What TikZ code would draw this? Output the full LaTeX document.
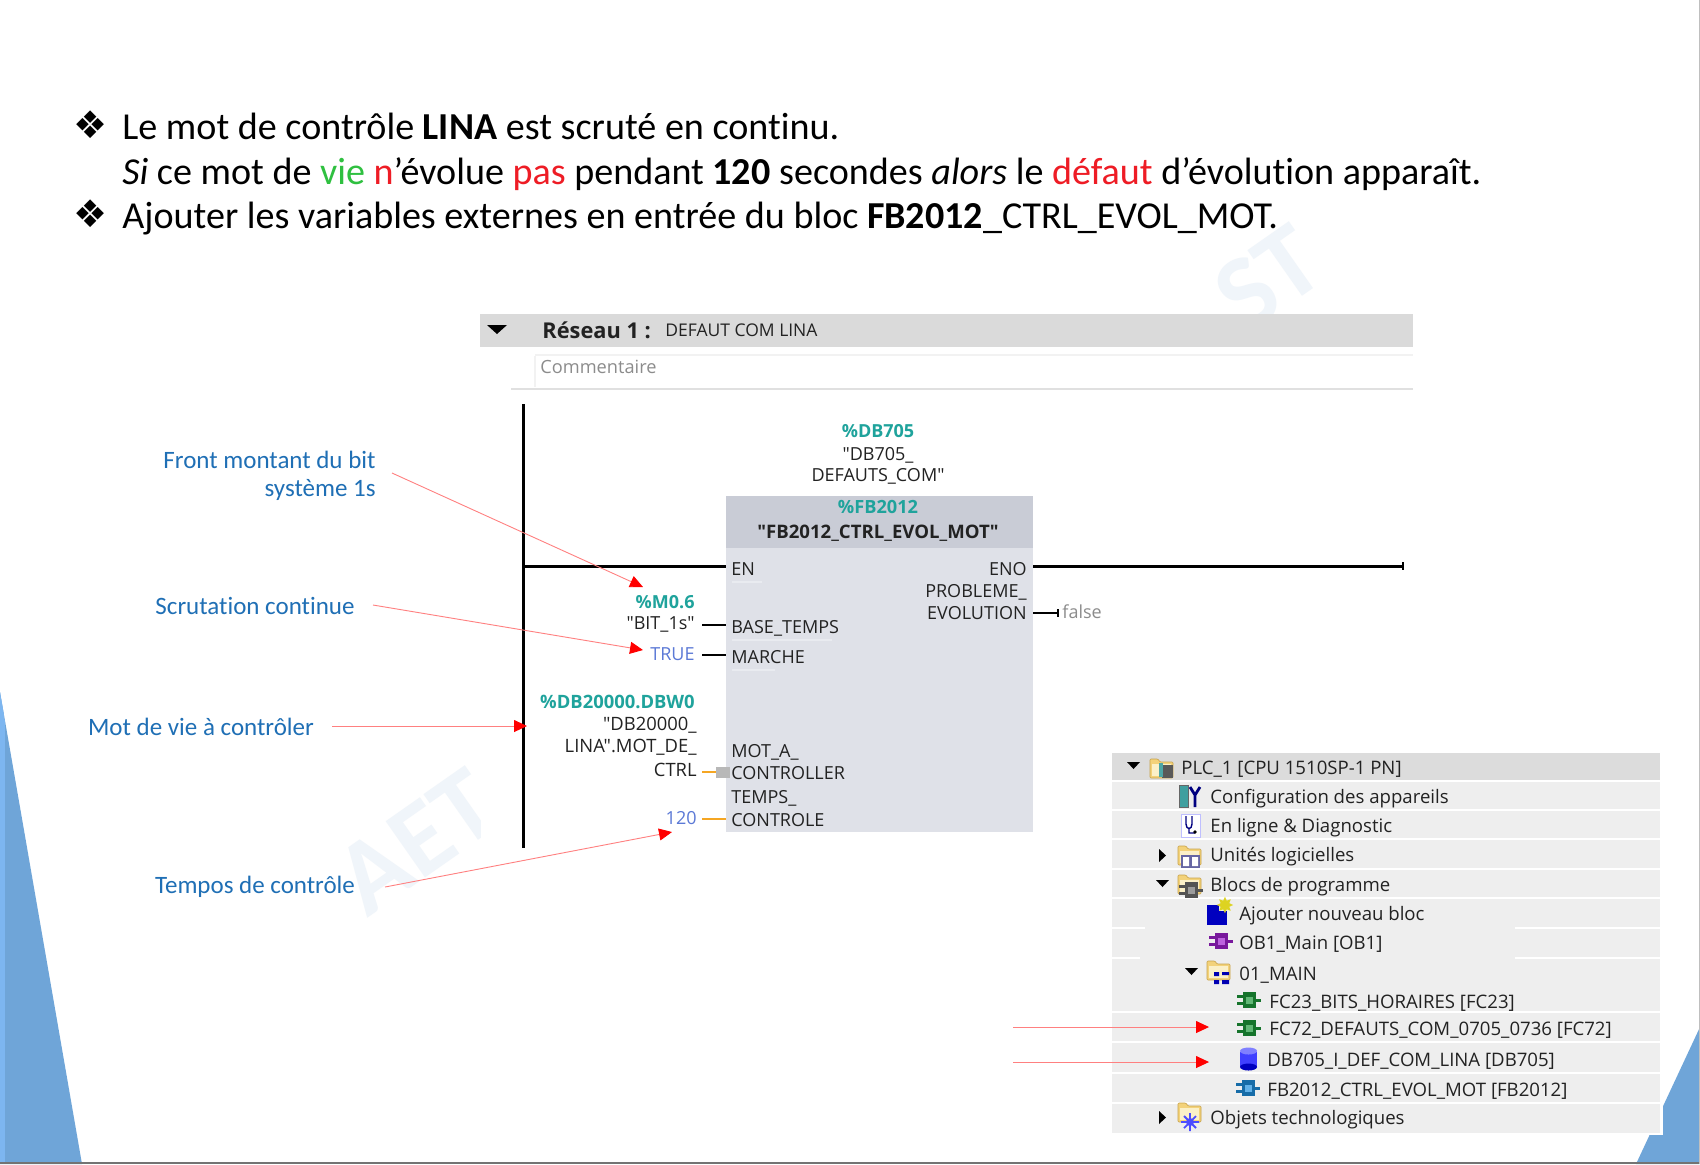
\documentclass[tikz,border=0pt]{standalone}
\usepackage{fontspec}
\setmainfont{Carlito}[Ligatures=NoCommon]
\newfontfamily\tiafont{Open Sans}
\newfontfamily\symfont{DejaVu Sans}
\usetikzlibrary{arrows.meta}
\definecolor{calblue}{HTML}{1F6FB5}
\definecolor{tealvar}{HTML}{1FA39C}
\definecolor{constblue}{HTML}{5B79D6}
\definecolor{greenw}{HTML}{2FC040}
\definecolor{redw}{HTML}{EE1C25}
\definecolor{wmark}{HTML}{F0F5FA}
\definecolor{triblue}{HTML}{6FA5D8}
\definecolor{triblueb}{HTML}{7DB6F0}
\definecolor{rowbg}{HTML}{EEEEEE}
\definecolor{rowhead}{HTML}{DCDCDC}
\definecolor{netbar}{HTML}{DADADA}
\definecolor{fbhead}{HTML}{C9CCD6}
\definecolor{fbbody}{HTML}{DFE1E8}
\definecolor{fbline}{HTML}{E9EBF0}
\definecolor{orangew}{HTML}{F5A623}
\definecolor{inktext}{HTML}{222222}
\definecolor{icgrey}{HTML}{707070}
\definecolor{icviolet}{HTML}{A020D0}
\definecolor{icgreen}{HTML}{1E9A3A}
\definecolor{iccyan}{HTML}{1E90E0}
\definecolor{folderline}{HTML}{C8A24A}
\definecolor{folderfill}{HTML}{F3D27A}
\definecolor{folderin}{HTML}{FBF0C8}
\tikzset{
  mainline/.style={font=\fontsize{19.05}{22}\selectfont,anchor=base west,inner sep=0pt},
  bullet/.style={font=\symfont\fontsize{19}{22}\selectfont,anchor=center,inner sep=0pt},
  callout/.style={font=\fontsize{12.5}{15}\selectfont,text=calblue,inner sep=0pt,align=right},
  callarrow/.style={draw=red!50!white,line width=0.45pt,-{Triangle[length=6.5pt,width=6pt,color=red]}},
  tia/.style={font=\tiafont\fontsize{9}{10}\selectfont,text=inktext,inner sep=0pt},
  tiav/.style={tia,text=tealvar,font=\tiafont\bfseries\fontsize{9}{10}\selectfont},
  tree/.style={font=\tiafont\fontsize{9.3}{10}\selectfont,text=inktext,inner sep=0pt,anchor=west},
  rail/.style={line width=1.5pt,black},
  pin/.style={line width=1.4pt,black},
  opin/.style={line width=1.4pt,orangew},
  tiptri/.style={fill=black,draw=none},
  wm/.style={text=wmark,font=\fontsize{53}{60}\selectfont\bfseries,inner sep=0pt,rotate=35}
}
% folder: top-left x,y
\newcommand{\tfolder}[2]{%
  \filldraw[rounded corners=0.5pt,draw=folderline,fill=folderfill,line width=0.3pt] (#1,#2+3)--(#1,#2+22)--(#1+23,#2+22)--(#1+23,#2+6)--(#1+10,#2+6)--(#1+8,#2+3)--cycle;
  \fill[fill=folderin] (#1+2,#2+8) rectangle (#1+21,#2+20);}
\newcommand{\bicon}[3]{% cx cy colour
  \fill[#3!75!black] (#1-6,#2-8) rectangle (#1+7,#2+8);
  \fill[#3!70!white] (#1-3,#2-3.5) rectangle (#1+4,#2+3.5);
  \fill[#3!75!black] (#1-12,#2-5) rectangle (#1-6,#2-2);
  \fill[#3!75!black] (#1-12,#2+2) rectangle (#1-6,#2+5);
  \fill[#3!75!black] (#1+7,#2-1.5) rectangle (#1+12,#2+1.5);}
\begin{document}
\begin{tikzpicture}[x=0.5pt,y=-0.5pt]
\useasboundingbox (0,0) rectangle (1700,1164);
\fill[white] (0,0) rectangle (1700,1164);
% background triangles
\fill[triblue] (0,692) -- (82,1164) -- (0,1164) -- cycle;
\begin{scope}
\clip (0,692) -- (82,1164) -- (0,1164) -- cycle;
\fill[triblueb] (0,680) rectangle (5,1164);
\end{scope}
\fill[triblue] (1700,1027) -- (1636,1164) -- (1700,1164) -- cycle;
\fill[white] (1100,1000) rectangle (1663,1135);
% watermark
\begin{scope}
\clip (340,760) rectangle (480,930);
\node[wm] (wma) at (417,842) {AET};
\end{scope}
\begin{scope}
\clip (1190,210) rectangle (1340,314);
\node[wm] (wmb) at (1268,278) {ST};
\end{scope}
% frame edges
\draw[black!55,line width=0.8pt] (0,1163.2) -- (1700,1163.2);
\draw[black!25,line width=0.5pt] (1699.5,0) -- (1699.5,1164);
% heading
\node[bullet] (b1) at (91,125) {❖};
\node[bullet] (b2) at (91,214) {❖};
\node[mainline] (l1) at (122,139.5) {Le mot de contrôle \textbf{LINA} est scruté en continu.};
\node[mainline] (l2) at (122,184) {\textit{Si} ce mot de \textcolor{greenw}{vie} \textcolor{redw}{n}’évolue \textcolor{redw}{pas} pendant \textbf{120} secondes \textit{alors} le \textcolor{redw}{défaut} d’évolution apparaît.};
\node[mainline] (l3) at (122,228) {Ajouter les variables externes en entrée du bloc \textbf{FB2012}\_CTRL\_EVOL\_MOT.};
% network header
\fill[netbar] (480,314) rectangle (1413,347);
\fill[tiptri] (487,325) -- (507,325) -- (497,334) -- cycle;
\node[anchor=west,inner sep=0pt,font=\tiafont\bfseries\fontsize{10.9}{12}\selectfont,text=inktext] (res) at (542,330) {Réseau 1 :};
\node[tia,anchor=west,font=\tiafont\fontsize{8.75}{11}\selectfont,text=inktext] (def) at (665,330) {DEFAUT COM LINA};
\draw[black!5,line width=0.6pt] (535,356) -- (535,387);
\draw[black!5,line width=0.6pt] (535,355) -- (1413,355);
\node[tia,anchor=west,text=black!45,font=\tiafont\fontsize{9.1}{10}\selectfont] (com) at (540,367) {Commentaire};
\draw[black!12,line width=1pt] (511,389) -- (1413,389);
% FB block
\fill[fbbody] (726,496) rectangle (1033,832);
\fill[fbhead] (726,496) rectangle (1033,548);
\draw[fbline,line width=0.6pt] (732,582) -- (762,582) (732,640) -- (832,640) (732,670) -- (775,670);
\coordinate (railtop) at (523,404);
\coordinate (railbot) at (523,848);
\coordinate (enL) at (523,566);
\coordinate (enR) at (726,566);
\coordinate (enoL) at (1033,566);
\coordinate (enoR) at (1403,566);
\draw[rail] (railtop) -- (railbot);
\draw[rail] (enL) -- (enR);
\draw[rail] (enoL) -- (enoR);
\draw[line width=1pt,black] (1403,562) -- (1403,570);
% above block
\node[tiav] (db) at (878,431) {\%DB705};
\node[tia] (db2) at (878,455.5) {"DB705\_};
\node[tia] (db3) at (878,476.5) {DEFAUTS\_COM"};
\node[tiav,font=\tiafont\bfseries\fontsize{9.1}{10}\selectfont] (fb) at (878,507) {\%FB2012};
\node[tia,font=\tiafont\bfseries\fontsize{9.3}{10}\selectfont] (fbn) at (878,533.5) {"FB2012\_CTRL\_EVOL\_MOT"};
% pins in
\node[tia,anchor=west] (pen) at (731,569) {EN};
\node[tia,anchor=west] (pbase) at (731,628.5) {BASE\_TEMPS};
\node[tia,anchor=west] (pmar) at (731,657.5) {MARCHE};
\node[tia,anchor=west] (pmot1) at (731,752.5) {MOT\_A\_};
\node[tia,anchor=west] (pmot2) at (731,773.5) {CONTROLLER};
\node[tia,anchor=west] (ptmp1) at (731,798.5) {TEMPS\_};
\node[tia,anchor=west] (ptmp2) at (731,820.5) {CONTROLE};
\node[tia,anchor=east] (peno) at (1027,569) {ENO};
\node[tia,anchor=east] (ppb1) at (1027,592.5) {PROBLEME\_};
\node[tia,anchor=east] (ppb2) at (1027,613.5) {EVOLUTION};
% left variables
\node[tiav,anchor=east] (m06) at (695,602) {\%M0.6};
\node[tia,anchor=east] (bit) at (695,624.5) {"BIT\_1s"};
\node[tia,anchor=east,text=constblue] (tru) at (695,654.5) {TRUE};
\node[tiav,anchor=east,font=\tiafont\bfseries\fontsize{9.2}{10}\selectfont] (dbw) at (695,702) {\%DB20000.DBW0};
\node[tia,anchor=east,font=\tiafont\fontsize{9.2}{10}\selectfont] (dbw2) at (697,725) {"DB20000\_};
\node[tia,anchor=east,font=\tiafont\fontsize{9.2}{10}\selectfont] (dbw3) at (697,747) {LINA".MOT\_DE\_};
\node[tia,anchor=east,font=\tiafont\fontsize{9.2}{10}\selectfont] (dbw4) at (697,770) {CTRL};
\node[tia,anchor=east,text=constblue] (v120) at (697,818) {120};
\node[tia,anchor=west,text=black!45] (fal) at (1062,612) {false};
\coordinate (w1a) at (702,625); \coordinate (w1b) at (726,625);
\coordinate (w2a) at (702,655); \coordinate (w2b) at (726,655);
\coordinate (w3a) at (702,772); \coordinate (w3b) at (717,772);
\coordinate (w4a) at (702,819); \coordinate (w4b) at (726,819);
\coordinate (w5a) at (1033,613); \coordinate (w5b) at (1058,613);
\draw[pin] (w1a) -- (w1b);
\draw[pin] (w2a) -- (w2b);
\draw[opin] (w3a) -- (w3b);
\fill[black!28] (716,767) rectangle (730,778);
\draw[opin] (w4a) -- (w4b);
\draw[pin] (w5a) -- (w5b);
\draw[line width=1pt,black] (1058,609) -- (1058,617);
% callouts
\node[callout,anchor=east] (c1a) at (376,459.5) {Front montant du bit};
\node[callout,anchor=east] (c1b) at (376,490) {système 1s};
\node[callout] (c2) at (255,605.5) {Scrutation continue};
\node[callout] (c3) at (201,727) {Mot de vie à contrôler};
\node[callout] (c4) at (255,887) {Tempos de contrôle};
\coordinate (a1s) at (392,473); \coordinate (a1e) at (643,587);
\coordinate (a2s) at (373,605); \coordinate (a2e) at (643,650);
\coordinate (a3s) at (332,726); \coordinate (a3e) at (527,726);
\coordinate (a4s) at (385,887); \coordinate (a4e) at (672,832);
\draw[callarrow] (a1s) -- (a1e);
\draw[callarrow] (a2s) -- (a2e);
\draw[callarrow] (a3s) -- (a3e);
\draw[callarrow] (a4s) -- (a4e);
% tree panel
\fill[rowbg] (1112,753) rectangle (1660,1133);
\fill[rowhead] (1112,753) rectangle (1660,781);
\foreach \yy in {781,810,839,869,898,1012,1042,1073,1103}
  \draw[white,line width=1pt] (1112,\yy) -- (1660,\yy);
\draw[white,line width=0.8pt] (1112,928) -- (1145,928) (1515,928) -- (1660,928);
\draw[white,line width=0.8pt] (1112,958) -- (1140,958) (1515,958) -- (1660,958);
% triangles
\fill[tiptri] (1127,762) -- (1140,762) -- (1133.5,769) -- cycle;
\fill[tiptri] (1159,849) -- (1166,855.5) -- (1159,862) -- cycle;
\fill[tiptri] (1156,880) -- (1169,880) -- (1162.5,887) -- cycle;
\fill[tiptri] (1185,968) -- (1198,968) -- (1191.5,975) -- cycle;
\fill[tiptri] (1159,1111) -- (1166,1117.5) -- (1159,1124) -- cycle;
% tree icons
\tfolder{1150}{756}
\fill[black!65] (1162,765) rectangle (1173,778);
\fill[teal!70] (1159,763) rectangle (1163,777);
\fill[teal!75] (1179,785) rectangle (1188,807);
\draw[black!60,line width=0.3pt] (1179,785) rectangle (1188,807);
\draw[blue!50!black,line width=1.4pt] (1190,787) -- (1195,795) -- (1200,787) (1195,795) -- (1195,807);
\filldraw[fill=white,draw=blue!25,line width=0.3pt] (1181,814) rectangle (1200,837);
\draw[blue!50!black,line width=0.7pt] (1186,816) -- (1186,824) .. controls (1186,830) and (1192,830) .. (1192,824) -- (1192,816) (1189,829) -- (1189,833) -- (1195,833);
\fill[black] (1195,832) circle (1.8);
\tfolder{1178}{843}
\fill[blue!40!black!60] (1181,855) rectangle (1200,868);
\fill[white] (1183,857) rectangle (1189,866) (1192,857) rectangle (1198,866);
\tfolder{1178}{872}
\bicon{1191}{890}{icgrey}
\fill[blue!75!black] (1207,905) rectangle (1227,925);
\fill[rowbg] (1219,899) rectangle (1230,911);
\node[inner sep=0pt,text=yellow!85!black,font=\symfont\fontsize{11}{11}\selectfont] (spark) at (1225,905) {✸};
\bicon{1221}{941}{icviolet}
\tfolder{1207}{958}
\fill[blue!70!black] (1214,972) rectangle (1219,976) (1222,972) rectangle (1229,975) (1214,980) rectangle (1219,984) (1222,980) rectangle (1229,984);
\bicon{1249}{1000}{icgreen}
\bicon{1249}{1028}{icgreen}
\fill[blue!75] (1240,1052) rectangle (1257,1067);
\fill[blue!75!black] (1248.5,1067) ellipse (8.5 and 3.5);
\fill[blue!50] (1248.5,1051) ellipse (8.5 and 3.5);
\bicon{1248}{1088}{iccyan}
\tfolder{1178}{1100}
\fill[blue!70] (1190,1122) circle (4);
\draw[blue!70,line width=0.9pt] (1181,1122) -- (1199,1122) (1190,1113) -- (1190,1131) (1184,1116) -- (1196,1128) (1184,1128) -- (1196,1116);
% tree text
\node[tree] (t1) at (1181,769) {PLC\_1 [CPU 1510SP-1 PN]};
\node[tree] (t2) at (1210,799) {Configuration des appareils};
\node[tree] (t3) at (1210,828) {En ligne \& Diagnostic};
\node[tree] (t4) at (1210,857) {Unités logicielles};
\node[tree] (t5) at (1210,887) {Blocs de programme};
\node[tree] (t6) at (1239,916) {Ajouter nouveau bloc};
\node[tree] (t7) at (1239,944) {OB1\_Main [OB1]};
\node[tree] (t8) at (1239,975) {01\_MAIN};
\node[tree] (t9) at (1269,1003) {FC23\_BITS\_HORAIRES [FC23]};
\node[tree] (t10) at (1269,1030) {FC72\_DEFAUTS\_COM\_0705\_0736 [FC72]};
\node[tree] (t11) at (1267,1061) {DB705\_I\_DEF\_COM\_LINA [DB705]};
\node[tree] (t12) at (1267,1091) {FB2012\_CTRL\_EVOL\_MOT [FB2012]};
\node[tree] (t13) at (1210,1120) {Objets technologiques};
% tree arrows
\coordinate (a5s) at (1013,1027); \coordinate (a5e) at (1209,1027);
\coordinate (a6s) at (1013,1062); \coordinate (a6e) at (1209,1062);
\draw[callarrow] (a5s) -- (a5e);
\draw[callarrow] (a6s) -- (a6e);
\end{tikzpicture}
\end{document}
